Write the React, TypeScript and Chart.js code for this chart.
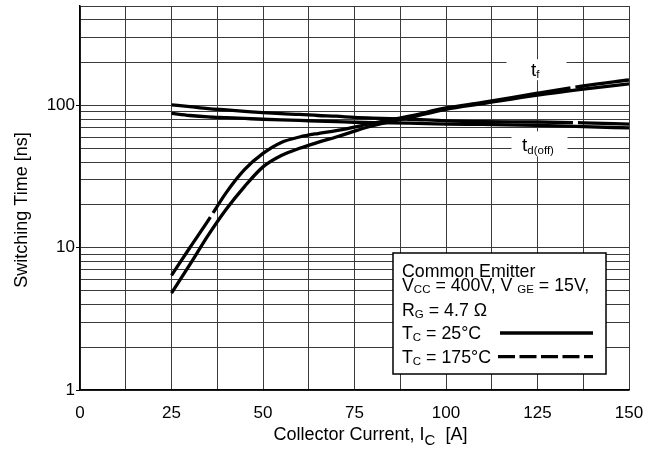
import React, { useEffect, useRef } from 'react';
import { Chart, registerables } from 'chart.js';

Chart.register(...registerables);

const FONT = '"Liberation Sans", Arial, Helvetica, sans-serif';

// ---- data ----
const CURRENT = [25, 30, 35, 40, 45, 50, 55, 60, 65, 70, 75, 80, 90, 100, 110, 125, 137.5, 150];
const TF_25C = [4.8, 7.6, 12.2, 18.7, 27, 37, 44.5, 50, 55, 60, 66, 72, 82, 94, 103, 118, 130, 142];
const TF_175C = [6.4, 10, 15.5, 24.5, 35.5, 46, 55, 60, 63.5, 66.5, 70.5, 75, 84, 96, 105, 122, 137, 151];
const TDOFF_25C = [88, 85, 83, 82, 81, 80, 79.2, 78.5, 77.7, 77, 76.2, 75.7, 75, 74, 73.5, 72.5, 71, 69.5];
const TDOFF_175C = [101, 98, 95, 93, 91, 89, 87.5, 86.5, 85, 84, 82.5, 81.5, 80, 78, 77, 76.5, 75.5, 74];

const X_MIN = 0;
const X_MAX = 150;
const X_GRID_STEP = 12.5;
const X_LABEL_STEP = 25;
const Y_MIN = 1;
const Y_MAX = 500;
const Y_GRID = [1, 2, 3, 4, 5, 6, 7, 8, 9, 10, 20, 30, 40, 50, 60, 70, 80, 90, 100, 200, 300, 400, 500];
const Y_LABELS = [1, 10, 100];

const CURVE_LABELS = [
  { main: 't', sub: 'f', x: 125, y: 174 },
  { main: 't', sub: 'd(off)', x: 125, y: 51.6 },
];

type Part = [string, number, number];

function drawRich(ctx: CanvasRenderingContext2D, x: number, y: number, parts: Part[], align: 'left' | 'center' = 'left') {
  ctx.save();
  ctx.textBaseline = 'alphabetic';
  ctx.textAlign = 'left';
  ctx.fillStyle = '#000';
  let total = 0;
  for (const [t, s] of parts) {
    ctx.font = `${s}px ${FONT}`;
    total += ctx.measureText(t).width;
  }
  let cx = align === 'center' ? x - total / 2 : x;
  for (const [t, s, dy] of parts) {
    ctx.font = `${s}px ${FONT}`;
    ctx.fillText(t, cx, y + dy);
    cx += ctx.measureText(t).width;
  }
  ctx.restore();
  return total;
}

const RECTS = [
  { l: -31, r: 29, t: -12, b: 9, tx: -6.5 },
  { l: -26, r: 30, t: -15, b: 10, tx: -15.5 },
];

const overlay = {
  id: 'overlay',
  beforeDatasetsDraw(chart: any) {
    const { ctx, scales } = chart;
    ctx.save();
    ctx.fillStyle = '#fff';
    CURVE_LABELS.forEach((lab, i) => {
      const px = scales.x.getPixelForValue(lab.x);
      const py = scales.y.getPixelForValue(lab.y);
      const r = RECTS[i];
      ctx.fillRect(px + r.l, py + r.t, r.r - r.l, r.b - r.t);
    });
    ctx.restore();
  },
  afterDatasetsDraw(chart: any) {
    const { ctx, scales, chartArea } = chart;
    CURVE_LABELS.forEach((lab, i) => {
      const px = scales.x.getPixelForValue(lab.x);
      const py = scales.y.getPixelForValue(lab.y);
      drawRich(ctx, px + RECTS[i].tx, py + 4.7, [[lab.main, 19, 0], [lab.sub, 11.5, 2.5]]);
    });

    // legend box
    const right = chartArea.right - 23;
    const bottom = chartArea.bottom - 16;
    const left = right - 213;
    const top = bottom - 121;
    ctx.save();
    ctx.fillStyle = '#fff';
    ctx.fillRect(left, top, right - left, bottom - top);
    ctx.strokeStyle = '#000';
    ctx.lineWidth = 1.5;
    ctx.strokeRect(left, top, right - left, bottom - top);
    ctx.restore();

    const tx = left + 9;
    const M = 17.8;
    const S = 11.5;
    drawRich(ctx, tx, top + 23.7, [['Common Emitter', M, 0]]);
    drawRich(ctx, tx, top + 37.5, [['V', M, 0], ['CC', S, 2], [' = 400V, V ', M, 0], ['GE', S, 2], [' = 15V,', M, 0]]);
    drawRich(ctx, tx, top + 63, [['R', M, 0], ['G', S, 2], [' = 4.7 \u03A9', M, 0]]);
    drawRich(ctx, tx, top + 86, [['T', M, 0], ['C', S, 2], [' = 25\u00B0C', M, 0]]);
    drawRich(ctx, tx, top + 109.5, [['T', M, 0], ['C', S, 2], [' = 175\u00B0C', M, 0]]);

    ctx.save();
    ctx.strokeStyle = '#000';
    ctx.lineWidth = 3.3;
    ctx.beginPath();
    ctx.moveTo(right - 106, top + 80);
    ctx.lineTo(right - 13, top + 80);
    ctx.stroke();
    ctx.setLineDash([17, 4.5]);
    ctx.beginPath();
    ctx.moveTo(right - 108, top + 103.7);
    ctx.lineTo(right - 13, top + 103.7);
    ctx.stroke();
    ctx.restore();
  },
  afterDraw(chart: any) {
    const { ctx, chartArea } = chart;
    // y title
    ctx.save();
    ctx.translate(22, (chartArea.top + chartArea.bottom) / 2 + 12);
    ctx.rotate(-Math.PI / 2);
    ctx.font = `18px ${FONT}`;
    ctx.fillStyle = '#000';
    ctx.textAlign = 'center';
    ctx.textBaseline = 'middle';
    ctx.fillText('Switching Time [ns]', 0, 0);
    ctx.restore();
    // x title
    drawRich(
      ctx,
      (chartArea.left + chartArea.right) / 2 + 16,
      chartArea.bottom + 50,
      [['Collector Current, I', 18, 0], ['C', 15, 5], ['  [A]', 18, 0]],
      'center'
    );
  },
};

export default function App() {
  const ref = useRef<HTMLCanvasElement | null>(null);

  useEffect(() => {
    document.body.style.margin = '0';
    const canvas = ref.current;
    if (!canvas) return;
    Chart.defaults.font.family = FONT;
    Chart.defaults.color = '#000';

    const mk = (label: string, data: number[], dash: number[]) => ({
      label,
      data: CURRENT.map((x, i) => ({ x, y: data[i] })),
      borderColor: '#000',
      backgroundColor: '#000',
      borderWidth: 3.3,
      pointRadius: 0,
      fill: false,
      cubicInterpolationMode: 'monotone' as const,
      borderDash: dash,
      borderCapStyle: 'butt' as const,
    });

    const chart = new Chart(canvas, {
      type: 'line',
      data: {
        datasets: [
          mk('tf 25°C', TF_25C, []),
          mk('tf 175°C', TF_175C, [70, 5, 394, 5, 1000, 0]),
          mk('td(off) 25°C', TDOFF_25C, []),
          mk('td(off) 175°C', TDOFF_175C, [402, 5, 1000, 0]),
        ],
      },
      options: {
        responsive: false,
        animation: false,
        layout: { padding: { top: 6, right: 23, left: 0, bottom: 0 } },
        plugins: { legend: { display: false }, tooltip: { enabled: false } },
        scales: {
          x: {
            type: 'linear',
            min: X_MIN,
            max: X_MAX,
            afterFit: (s: any) => { s.height = 61; s.paddingLeft = 0; s.paddingRight = 0; },
            ticks: {
              stepSize: X_GRID_STEP,
              autoSkip: false,
              maxRotation: 0,
              padding: 13,
              font: { size: 17 },
              color: '#000',
              callback: (v: any) => (Number(v) % X_LABEL_STEP === 0 ? String(v) : ''),
            },
            grid: { color: '#3a3a3a', lineWidth: 1, drawTicks: false },
            border: { color: '#000', width: 1.5 },
          },
          y: {
            type: 'logarithmic',
            min: Y_MIN,
            max: Y_MAX,
            afterFit: (s: any) => { s.width = 80; s.paddingTop = 0; s.paddingBottom = 0; },
            afterBuildTicks: (s: any) => { s.ticks = Y_GRID.map((v) => ({ value: v })); },
            ticks: {
              autoSkip: false,
              padding: 1,
              font: { size: 17 },
              color: '#000',
              callback: (v: any) => (Y_LABELS.includes(Number(v)) ? String(v) : ''),
            },
            grid: {
              color: '#3a3a3a',
              lineWidth: 1,
              tickLength: 4,
              tickColor: (c: any) => (c.tick && Y_LABELS.includes(c.tick.value) ? '#000' : 'rgba(0,0,0,0)'),
            },
            border: { color: '#000', width: 1.5 },
          },
        },
      },
      plugins: [overlay],
    });
    return () => chart.destroy();
  }, []);

  return <canvas ref={ref} width={652} height={451} style={{ display: 'block' }} />;
}
